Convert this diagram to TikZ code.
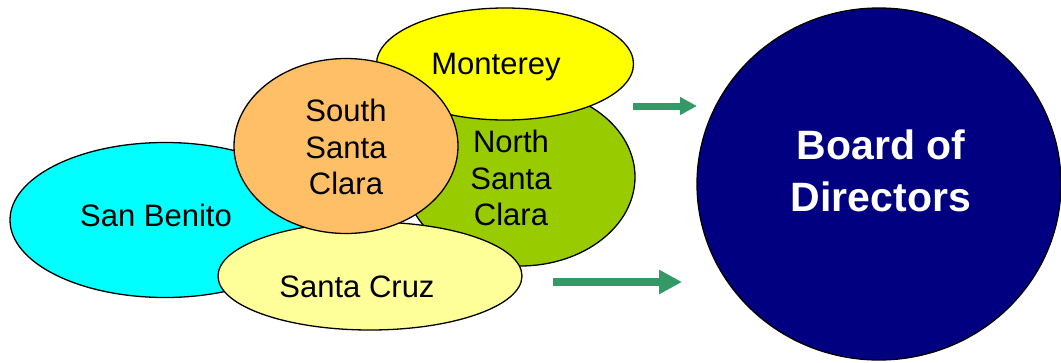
\documentclass[tikz,border=0pt]{standalone}
\usepackage{fontspec}
\setmainfont{Liberation Sans}
\usetikzlibrary{shapes.geometric}
\usetikzlibrary{arrows.meta}

\definecolor{benitocyan}{HTML}{00FFFF}
\definecolor{montereyyellow}{HTML}{FFFF00}
\definecolor{northgreen}{HTML}{99CC00}
\definecolor{southorange}{HTML}{FFBF66}
\definecolor{cruzyellow}{HTML}{FFFF99}
\definecolor{boardnavy}{HTML}{000080}
\definecolor{flowgreen}{HTML}{339966}

\begin{document}
\begin{tikzpicture}[x=1pt,y=-1pt,
  region/.style={ellipse, draw=black, line width=1.3pt, inner sep=0pt},
  regiontext/.style={align=center, inner sep=0pt, font=\fontsize{31}{36.5}\selectfont},
  flow/.style={draw=flowgreen, line width=#1}]

\useasboundingbox (0,0) rectangle (1061,362);

% county shapes, back to front
\node[region, fill=benitocyan, minimum width=310, minimum height=155] (sanbenito) at (165,220) {};
\node[region, fill=northgreen, minimum width=230, minimum height=178] (northsc) at (520,177) {};
\node[region, fill=montereyyellow, minimum width=257, minimum height=112] (monterey) at (505,64) {};
\node[region, fill=cruzyellow, minimum width=304, minimum height=108] (santacruz) at (370,276) {};
\node[region, fill=southorange, minimum width=224, minimum height=175] (southsc) at (346,146) {};

% county names
\node[regiontext] (sanbenitotext) at (156,215) {San Benito};
\node[regiontext] (northsctext) at (511,178) {North\\Santa\\Clara};
\node[regiontext] (montereytext) at (496,67) {Monterey};
\node[regiontext] (santacruztext) at (357,287) {Santa Cruz};
\node[regiontext] (southsctext) at (346,147) {South\\Santa\\Clara};

% board
\node[region, fill=boardnavy, minimum width=364, minimum height=352] (board) at (879,184) {};
\node[text=white, align=center, inner sep=0pt,
  font=\fontsize{41}{52}\bfseries] (boardtext) at (881,171) {Board of\\Directors};

% arrows
\coordinate (topfrom) at (633,106);
\coordinate (topto) at (697,106);
\coordinate (lowfrom) at (553,282);
\coordinate (lowto) at (682,282);
\draw[flow=7pt, -{Triangle[length=17pt,width=17pt]}] (topfrom) -- (topto);
\draw[flow=8pt, -{Triangle[length=23pt,width=23pt]}] (lowfrom) -- (lowto);

\end{tikzpicture}
\end{document}
